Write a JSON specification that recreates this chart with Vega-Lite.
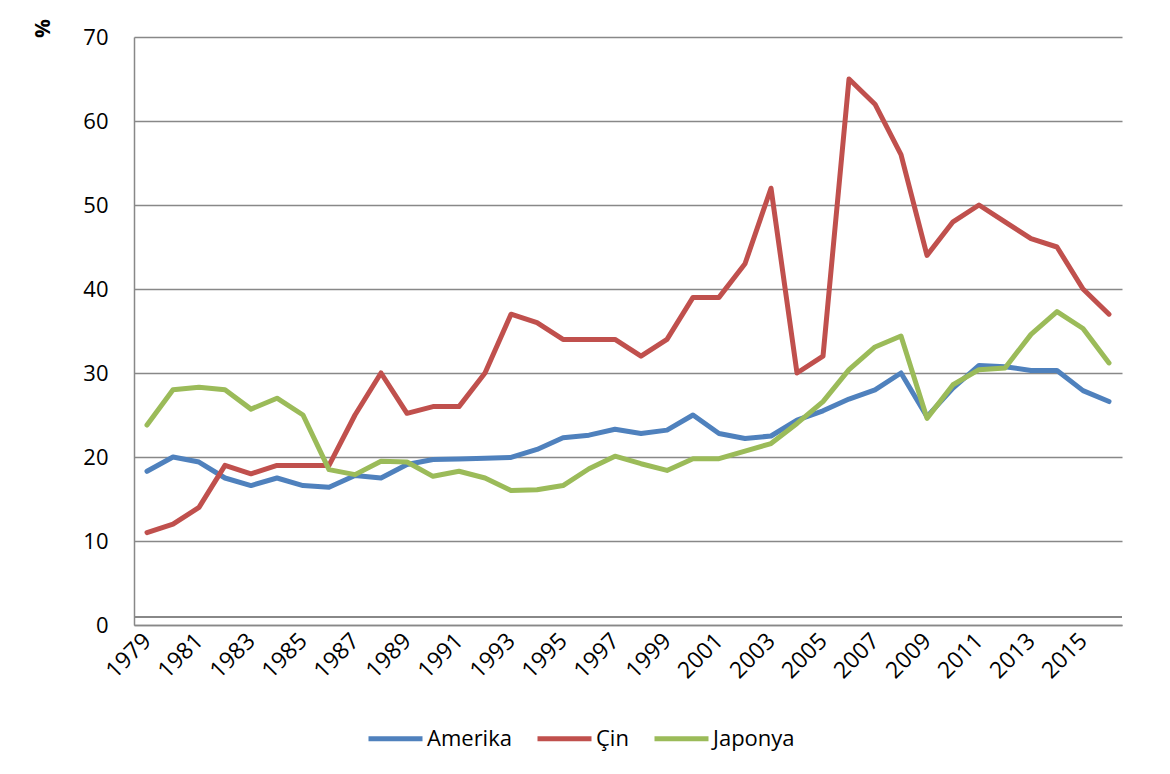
{
  "$schema": "https://vega.github.io/schema/vega-lite/v6.json",
  "width": 988,
  "height": 588,
  "autosize": "none",
  "padding": {"left": 134, "top": 37, "right": 48, "bottom": 149},
  "background": "white",
  "config": {
    "view": {"stroke": null},
    "font": "Open Sans"
  },
  "data": {
    "values": [
      {"country":"Amerika","year":1979,"value":18.3},{"country":"Amerika","year":1980,"value":20.0},{"country":"Amerika","year":1981,"value":19.4},{"country":"Amerika","year":1982,"value":17.5},{"country":"Amerika","year":1983,"value":16.6},{"country":"Amerika","year":1984,"value":17.5},{"country":"Amerika","year":1985,"value":16.6},{"country":"Amerika","year":1986,"value":16.4},{"country":"Amerika","year":1987,"value":17.8},{"country":"Amerika","year":1988,"value":17.5},{"country":"Amerika","year":1989,"value":19.1},{"country":"Amerika","year":1990,"value":19.7},{"country":"Amerika","year":1991,"value":19.75},{"country":"Amerika","year":1992,"value":19.85},{"country":"Amerika","year":1993,"value":19.95},{"country":"Amerika","year":1994,"value":20.9},{"country":"Amerika","year":1995,"value":22.3},{"country":"Amerika","year":1996,"value":22.6},{"country":"Amerika","year":1997,"value":23.3},{"country":"Amerika","year":1998,"value":22.8},{"country":"Amerika","year":1999,"value":23.2},{"country":"Amerika","year":2000,"value":25.0},{"country":"Amerika","year":2001,"value":22.8},{"country":"Amerika","year":2002,"value":22.2},{"country":"Amerika","year":2003,"value":22.5},{"country":"Amerika","year":2004,"value":24.4},{"country":"Amerika","year":2005,"value":25.5},{"country":"Amerika","year":2006,"value":26.9},{"country":"Amerika","year":2007,"value":28.0},{"country":"Amerika","year":2008,"value":30.0},{"country":"Amerika","year":2009,"value":24.8},{"country":"Amerika","year":2010,"value":28.2},{"country":"Amerika","year":2011,"value":30.9},{"country":"Amerika","year":2012,"value":30.75},{"country":"Amerika","year":2013,"value":30.3},{"country":"Amerika","year":2014,"value":30.3},{"country":"Amerika","year":2015,"value":27.9},{"country":"Amerika","year":2016,"value":26.6},
      {"country":"Çin","year":1979,"value":11},{"country":"Çin","year":1980,"value":12},{"country":"Çin","year":1981,"value":14},{"country":"Çin","year":1982,"value":19},{"country":"Çin","year":1983,"value":18},{"country":"Çin","year":1984,"value":19},{"country":"Çin","year":1985,"value":19},{"country":"Çin","year":1986,"value":19},{"country":"Çin","year":1987,"value":25},{"country":"Çin","year":1988,"value":30},{"country":"Çin","year":1989,"value":25.2},{"country":"Çin","year":1990,"value":26},{"country":"Çin","year":1991,"value":26},{"country":"Çin","year":1992,"value":30},{"country":"Çin","year":1993,"value":37},{"country":"Çin","year":1994,"value":36},{"country":"Çin","year":1995,"value":34},{"country":"Çin","year":1996,"value":34},{"country":"Çin","year":1997,"value":34},{"country":"Çin","year":1998,"value":32},{"country":"Çin","year":1999,"value":34},{"country":"Çin","year":2000,"value":39},{"country":"Çin","year":2001,"value":39},{"country":"Çin","year":2002,"value":43},{"country":"Çin","year":2003,"value":52},{"country":"Çin","year":2004,"value":30},{"country":"Çin","year":2005,"value":32},{"country":"Çin","year":2006,"value":65},{"country":"Çin","year":2007,"value":62},{"country":"Çin","year":2008,"value":56},{"country":"Çin","year":2009,"value":44},{"country":"Çin","year":2010,"value":48},{"country":"Çin","year":2011,"value":50},{"country":"Çin","year":2012,"value":48},{"country":"Çin","year":2013,"value":46},{"country":"Çin","year":2014,"value":45},{"country":"Çin","year":2015,"value":40},{"country":"Çin","year":2016,"value":37},
      {"country":"Japonya","year":1979,"value":23.8},{"country":"Japonya","year":1980,"value":28.0},{"country":"Japonya","year":1981,"value":28.3},{"country":"Japonya","year":1982,"value":28.0},{"country":"Japonya","year":1983,"value":25.7},{"country":"Japonya","year":1984,"value":27.0},{"country":"Japonya","year":1985,"value":25.0},{"country":"Japonya","year":1986,"value":18.5},{"country":"Japonya","year":1987,"value":17.9},{"country":"Japonya","year":1988,"value":19.5},{"country":"Japonya","year":1989,"value":19.4},{"country":"Japonya","year":1990,"value":17.7},{"country":"Japonya","year":1991,"value":18.3},{"country":"Japonya","year":1992,"value":17.5},{"country":"Japonya","year":1993,"value":16.0},{"country":"Japonya","year":1994,"value":16.1},{"country":"Japonya","year":1995,"value":16.6},{"country":"Japonya","year":1996,"value":18.6},{"country":"Japonya","year":1997,"value":20.1},{"country":"Japonya","year":1998,"value":19.2},{"country":"Japonya","year":1999,"value":18.4},{"country":"Japonya","year":2000,"value":19.8},{"country":"Japonya","year":2001,"value":19.8},{"country":"Japonya","year":2002,"value":20.7},{"country":"Japonya","year":2003,"value":21.6},{"country":"Japonya","year":2004,"value":24.0},{"country":"Japonya","year":2005,"value":26.6},{"country":"Japonya","year":2006,"value":30.4},{"country":"Japonya","year":2007,"value":33.1},{"country":"Japonya","year":2008,"value":34.4},{"country":"Japonya","year":2009,"value":24.6},{"country":"Japonya","year":2010,"value":28.6},{"country":"Japonya","year":2011,"value":30.4},{"country":"Japonya","year":2012,"value":30.6},{"country":"Japonya","year":2013,"value":34.6},{"country":"Japonya","year":2014,"value":37.3},{"country":"Japonya","year":2015,"value":35.3},{"country":"Japonya","year":2016,"value":31.2}
    ]
  },
  "layer": [
    {
      "mark": {"type": "rule", "color": "#888888", "strokeWidth": 1.5},
      "encoding": {"y": {"datum": 0.95, "type": "quantitative", "scale": {"domain": [0, 70]}}}
    },
    {
      "mark": {"type": "line", "strokeWidth": 5, "strokeCap": "round", "strokeJoin": "round"},
      "encoding": {
        "x": {
          "field": "year",
          "type": "ordinal",
          "scale": {"type": "point", "padding": 0.5},
          "axis": {
            "title": null,
            "values": [1979,1981,1983,1985,1987,1989,1991,1993,1995,1997,1999,2001,2003,2005,2007,2009,2011,2013,2015],
            "labelAngle": -45,
            "labelAlign": "right",
            "labelBaseline": "middle",
            "labelPadding": 12,
            "labelFontSize": 23,
            "labelColor": "#000000",
            "labelFont": "Open Sans",
            "ticks": false,
            "domainColor": "#888888",
            "domainWidth": 1.5,
            "grid": false
          }
        },
        "y": {
          "field": "value",
          "type": "quantitative",
          "scale": {"domain": [0, 70]},
          "axis": {
            "title": "%",
            "titleFont": "Open Sans",
            "titleFontSize": 21,
            "titleFontWeight": "bold",
            "titleColor": "#000000",
            "titleX": -91,
            "titleY": -9,
            "titleAlign": "center",
            "titleBaseline": "middle",
            "titleAngle": -90,
            "values": [0,10,20,30,40,50,60,70],
            "labelFontSize": 22,
            "labelFont": "Open Sans",
            "labelColor": "#000000",
            "labelPadding": 26,
            "ticks": false,
            "domainColor": "#888888",
            "domainWidth": 1.5,
            "grid": true,
            "gridColor": "#888888",
            "gridWidth": 1.5
          }
        },
        "color": {
          "field": "country",
          "type": "nominal",
          "scale": {"domain": ["Amerika", "Çin", "Japonya"], "range": ["#4F81BD", "#C0504D", "#9BBB59"]},
          "legend": {
            "title": null,
            "orient": "none",
            "direction": "horizontal",
            "legendX": 232,
            "legendY": 672,
            "symbolType": "stroke",
            "symbolSize": 2916,
            "symbolStrokeWidth": 5,
            "labelFontSize": 22,
            "labelFont": "Open Sans",
            "labelColor": "#000000",
            "labelOffset": 2,
            "columnPadding": 15
          }
        }
      }
    }
  ]
}
